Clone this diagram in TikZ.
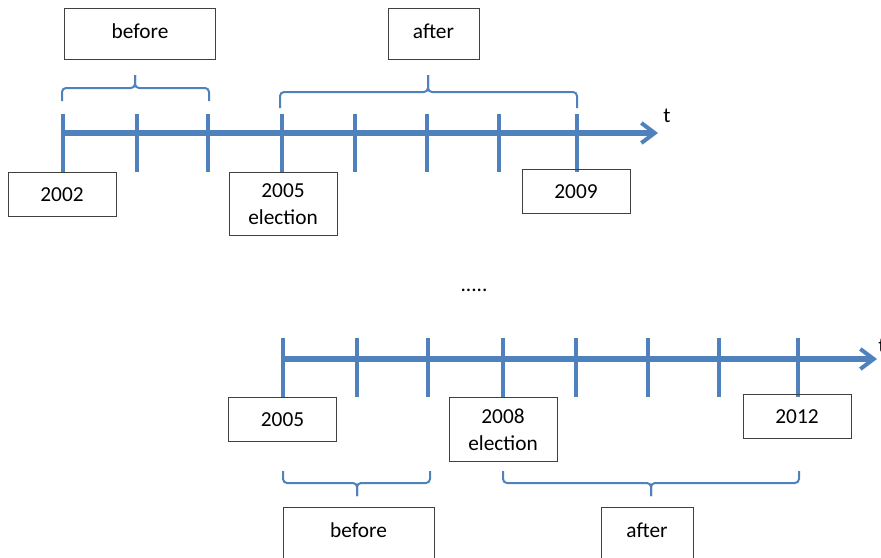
\documentclass[tikz,border=0pt]{standalone}
\usepackage{fontspec}
\setmainfont{Carlito}
\usetikzlibrary{arrows.meta}

\definecolor{lineblue}{HTML}{4F81BD}

\tikzset{
  txt/.style={font=\fontsize{16}{20}\selectfont},
  axis/.style={draw=lineblue,line width=4pt,
    -{Straight Barb[length=10pt,width=15pt,line width=3pt]}},
  tick/.style={draw=lineblue,line width=3.5pt},
  brace/.style={draw=lineblue,line width=1.5pt,rounded corners=3pt},
  yearbox/.style={txt,draw=black!75,line width=0.75pt,anchor=north,
    minimum width=81pt,minimum height=33pt,inner sep=0pt,align=center},
  spanbox/.style={txt,draw=black!75,line width=0.75pt,
    minimum height=38.25pt,inner sep=0pt,text depth=4pt}
}

\begin{document}
\begin{tikzpicture}[x=0.75pt,y=-0.75pt]
  \useasboundingbox (0,0) rectangle (881,557);

  % first window
  \coordinate (A0) at (63,133);
  \coordinate (A1) at (658,133);
  \draw[axis] (A0) -- (A1);
  \foreach \x in {63,137,208,282,355,427,499,577}
    \draw[tick] (\x,114) -- (\x,172);
  \node[txt] (tA) at (667,116) {t};

  \draw[brace] (62,101) |- (135,88) -- (135,75);
  \draw[brace] (209,101) |- (135,88) -- (135,75);
  \draw[brace] (280,108) |- (428,92) -- (428,75);
  \draw[brace] (577,108) |- (428,92) -- (428,75);

  \node[spanbox,minimum width=113.25pt] (befA) at (140,33.5) {before};
  \node[spanbox,minimum width=68.25pt] (aftA) at (433.5,33.5) {after};

  \node[yearbox] (y2002) at (62,172) {2002};
  \node[yearbox,minimum height=47.25pt] (e2005) at (283,172) {2005\\election};
  \node[yearbox] (y2009) at (576,169) {2009};

  \node[txt] (dots) at (474,290) {.....};

  % second window
  \coordinate (B0) at (283,359);
  \coordinate (B1) at (877,359);
  \draw[axis] (B0) -- (B1);
  \foreach \x in {283,357,428,503,576,648,719,798}
    \draw[tick] (\x,338) -- (\x,397);
  \node[txt] (tB) at (882,346) {t};

  \node[yearbox] (y2005) at (282.5,397) {2005};
  \node[yearbox,minimum height=48pt] (e2008) at (503,397) {2008\\election};
  \node[yearbox] (y2012) at (797,394) {2012};

  \draw[brace] (283,471) |- (357,483) -- (357,496);
  \draw[brace] (430,471) |- (357,483) -- (357,496);
  \draw[brace] (503,471) |- (651,483) -- (651,496);
  \draw[brace] (799,471) |- (651,483) -- (651,496);

  \node[spanbox,minimum width=113.25pt] (befB) at (358.5,532.5) {before};
  \node[spanbox,minimum width=69pt] (aftB) at (647,532.5) {after};
\end{tikzpicture}
\end{document}
